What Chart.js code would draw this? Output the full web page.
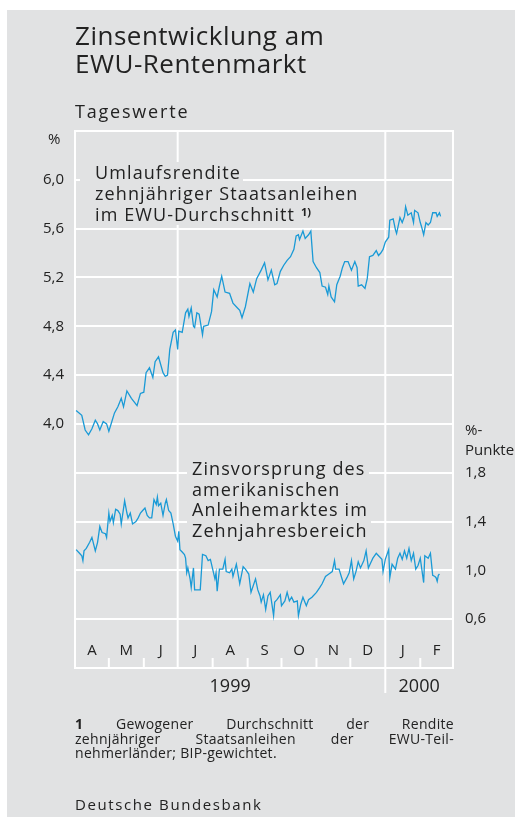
<!DOCTYPE html>
<html><head><meta charset="utf-8">
<script src="https://cdn.jsdelivr.net/npm/chart.js@4.4.0/dist/chart.umd.min.js"></script>
<style>
html,body{margin:0;padding:0;background:#fff;width:515px;height:817px;overflow:hidden;font-family:"Open Sans",sans-serif;color:#222;}
#bg{position:absolute;left:7px;top:10px;width:508px;height:807px;background:#e1e2e3;}
#c{position:absolute;left:0;top:0;}
.t{position:absolute;white-space:nowrap;}
.box span{display:block;width:fit-content;background:#e1e2e3;}
.just{text-align:justify;text-align-last:justify;white-space:normal;}
</style></head>
<body>
<div id="bg"></div>
<canvas id="c" width="515" height="817"></canvas>

<div class="t" style="left:75px;top:21px;font-size:26px;line-height:28px;letter-spacing:0.5px;">Zinsentwicklung am<br>EWU-Rentenmarkt</div>
<div class="t" style="left:75px;top:101px;font-size:18px;line-height:20px;letter-spacing:1.8px;">Tageswerte</div>
<div class="t" style="left:48px;top:128px;font-size:15px;line-height:20px;">%</div>
<div class="t" style="left:465px;top:419px;font-size:15px;line-height:20px;">%-<br>Punkte</div>

<div class="t box" style="left:80px;top:161.5px;font-size:18px;line-height:21px;letter-spacing:1.1px;">
<span style="padding:0 2px 0 15px">Umlaufsrendite</span>
<span style="padding:0 2px 0 15px">zehnjähriger Staatsanleihen</span>
<span style="padding:0 2px 0 15px">im EWU-Durchschnitt <sup style="font-size:11px;font-weight:bold;vertical-align:5px;line-height:0;letter-spacing:0">1)</sup></span>
</div>

<div class="t box" style="left:187px;top:458.3px;font-size:18px;line-height:20.5px;letter-spacing:1.1px;">
<span style="padding:0 3px 0 5px">Zinsvorsprung des</span>
<span style="padding:0 3px 0 5px">amerikanischen</span>
<span style="padding:0 3px 0 5px">Anleihemarktes im</span>
<span style="padding:0 3px 0 5px">Zehnjahresbereich</span>
</div>

<div class="t" style="left:75px;top:717px;width:379px;font-size:14px;line-height:14.5px;letter-spacing:0.3px;white-space:normal;">
<div class="just"><b>1</b> Gewogener Durchschnitt der Rendite</div>
<div class="just">zehnjähriger Staatsanleihen der EWU-Teil-</div>
<div>nehmerländer; BIP-gewichtet.</div>
</div>
<div class="t" style="left:75px;top:796.3px;font-size:15px;line-height:16px;letter-spacing:1.6px;">Deutsche Bundesbank</div>

<script>
// Days counted from 1 April 1999
const monthLabels = ['A','M','J','J','A','S','O','N','D','J','F'];
const monthLengths = [30,31,30,31,31,30,31,30,31,31,29];
const yearLabels = ['1999','2000'];
const yearStartDays = [0, 275, 335];

const leftTicksShown = [4.0,4.4,4.8,5.2,5.6,6.0];
const rightTicksShown = [0.6,1.0,1.4,1.8];

const yieldDays = [1,6,9,12,15,18,20,22,25,28,30,33,35,38,41,43,46,50,55,58,61,63,66,69,71,74,78,80,82,84,87,89,91,92,95,98,100,101,103,105,106,108,110,113,114,118,121,123,126,128,130,133,137,140,144,146,148,151,155,158,161,165,168,171,174,177,179,182,185,188,191,194,196,198,199,202,204,207,209,211,214,217,219,222,224,225,227,230,232,235,237,239,242,245,248,250,251,254,257,259,261,264,267,269,271,273,275,278,279,282,284,285,288,290,292,293,295,298,300,301,304,306,307,309,311,313,315,317,320,321,323,324];
const yieldValues = [4.11,4.07,3.95,3.91,3.96,4.03,4.00,3.95,4.02,4.00,3.94,4.03,4.09,4.14,4.21,4.14,4.27,4.21,4.15,4.25,4.26,4.42,4.46,4.38,4.51,4.55,4.42,4.39,4.40,4.61,4.75,4.77,4.61,4.76,4.75,4.91,4.94,4.88,4.95,4.80,4.79,4.91,4.90,4.73,4.80,4.81,4.92,5.10,5.04,5.13,5.21,5.08,5.07,4.99,4.95,4.93,4.87,4.96,5.15,5.08,5.19,5.26,5.32,5.18,5.26,5.14,5.15,5.25,5.30,5.34,5.37,5.43,5.54,5.55,5.51,5.58,5.52,5.55,5.58,5.33,5.28,5.24,5.13,5.12,5.06,5.13,5.04,5.00,5.14,5.21,5.28,5.33,5.33,5.26,5.33,5.28,5.13,5.14,5.11,5.19,5.37,5.38,5.42,5.38,5.40,5.43,5.49,5.53,5.67,5.68,5.59,5.56,5.69,5.65,5.70,5.78,5.71,5.73,5.65,5.75,5.73,5.65,5.62,5.55,5.65,5.63,5.65,5.73,5.73,5.70,5.73,5.70];

const spreadDays = [1,4,6,7,8,10,13,15,18,20,22,24,27,28,30,31,33,34,36,38,40,41,44,46,47,49,51,54,56,58,60,62,64,66,68,70,72,73,74,76,78,80,81,83,85,87,89,91,92,93,95,97,98,99,100,102,103,105,106,111,113,116,118,120,122,124,125,126,128,131,133,134,137,139,140,143,146,149,151,154,156,160,162,164,165,167,169,171,173,176,177,179,182,183,186,188,190,192,194,197,198,200,202,205,207,210,214,217,219,222,225,228,230,231,234,236,238,241,243,245,247,249,251,253,256,258,260,262,264,267,269,272,273,275,278,279,281,284,286,288,290,292,294,296,298,300,302,304,306,309,310,313,315,317,319,320,321,322,323];
const spreadValues = [1.17,1.14,1.12,1.08,1.16,1.18,1.23,1.27,1.16,1.23,1.36,1.31,1.30,1.27,1.47,1.40,1.45,1.39,1.50,1.49,1.46,1.38,1.57,1.47,1.43,1.47,1.38,1.40,1.43,1.47,1.49,1.51,1.45,1.43,1.43,1.58,1.54,1.60,1.53,1.55,1.45,1.55,1.58,1.49,1.47,1.38,1.28,1.24,1.32,1.17,1.15,1.13,1.10,0.98,1.02,0.93,0.86,1.02,0.84,0.84,1.13,1.12,1.08,1.09,1.01,0.93,0.98,0.83,1.01,1.01,1.09,0.99,0.98,1.01,0.95,1.05,0.89,1.03,1.01,0.97,0.82,0.93,0.84,0.79,0.74,0.80,0.68,0.79,0.82,0.63,0.74,0.76,0.80,0.71,0.75,0.82,0.75,0.78,0.74,0.75,0.63,0.72,0.78,0.71,0.76,0.78,0.82,0.86,0.89,0.95,0.97,0.99,1.08,1.01,1.01,0.95,0.89,0.94,0.98,1.08,0.93,0.99,1.07,1.02,1.08,1.16,1.02,1.06,1.10,1.14,1.12,1.09,0.99,1.09,1.17,0.94,1.05,1.01,1.10,1.14,1.09,1.16,1.10,1.18,1.08,1.14,1.01,1.04,1.10,0.90,1.12,1.10,1.14,0.96,0.95,0.94,0.91,0.96,0.97];

const LINE = '#1a9ad6', GRID = '#ffffff', TEXT = '#222222', FONT = '"Open Sans", sans-serif';

const toXY = (days, vals) => days.map((d, i) => ({x: d, y: vals[i]}));
const fmt = v => v.toFixed(1).replace('.', ',');
const near = (list, v) => list.some(t => Math.abs(t - v) < 1e-6);

const framePlugin = {
  id: 'frame',
  beforeDatasetsDraw(chart) {
    const {ctx, chartArea: {left, right, top, bottom}, scales: {x}} = chart;
    ctx.save();
    ctx.strokeStyle = GRID;
    ctx.lineWidth = 2;
    ctx.beginPath();
    ctx.moveTo(left, top - 1); ctx.lineTo(left, bottom + 1);
    ctx.moveTo(right, top - 1); ctx.lineTo(right, bottom + 1);
    ctx.stroke();
    let d = 0;
    const bounds = [];
    monthLengths.forEach(len => { bounds.push(d); d += len; });
    bounds.forEach((b, i) => {
      if (i === 0) return;
      const px = x.getPixelForValue(b);
      ctx.beginPath();
      if (b === yearStartDays[1]) { ctx.moveTo(px, top); ctx.lineTo(px, bottom + 25); }
      else if (b === 91) { ctx.moveTo(px, top); ctx.lineTo(px, bottom); }
      else { ctx.moveTo(px, bottom - 10); ctx.lineTo(px, bottom); }
      ctx.stroke();
    });
    ctx.fillStyle = TEXT;
    ctx.font = '15px ' + FONT;
    ctx.textAlign = 'center';
    ctx.textBaseline = 'middle';
    bounds.forEach((b, i) => {
      const mid = b + monthLengths[i] / 2;
      ctx.fillText(monthLabels[i], x.getPixelForValue(mid), bottom - 17);
    });
    ctx.font = '18px ' + FONT;
    yearLabels.forEach((lab, i) => {
      const mid = (yearStartDays[i] + yearStartDays[i + 1]) / 2;
      ctx.fillText(lab, x.getPixelForValue(mid), bottom + 19);
    });
    ctx.restore();
  }
};

new Chart(document.getElementById('c'), {
  type: 'line',
  data: {
    datasets: [
      {data: toXY(yieldDays, yieldValues), yAxisID: 'y', borderColor: LINE, borderWidth: 1.3, pointRadius: 0, tension: 0},
      {data: toXY(spreadDays, spreadValues), yAxisID: 'y2', borderColor: LINE, borderWidth: 1.3, pointRadius: 0, tension: 0}
    ]
  },
  options: {
    responsive: false,
    animation: false,
    layout: {padding: {top: 131, bottom: 149, left: 0, right: 0}},
    plugins: {legend: {display: false}, tooltip: {enabled: false}},
    scales: {
      x: {type: 'linear', min: 0, max: 335, display: false},
      y: {
        position: 'left', min: 2.0, max: 6.4,
        afterFit: s => { s.width = 75; },
        grid: {color: GRID, lineWidth: 2, drawTicks: false},
        border: {display: false},
        ticks: {stepSize: 0.4, autoSkip: false, padding: 11, color: TEXT, font: {family: FONT, size: 15},
                callback: v => near(leftTicksShown, v) ? fmt(v) : ''}
      },
      y2: {
        position: 'right', min: 0.2, max: 4.6,
        afterFit: s => { s.width = 62; },
        grid: {display: false, drawTicks: false},
        border: {display: false},
        ticks: {stepSize: 0.4, autoSkip: false, padding: 12, color: TEXT, font: {family: FONT, size: 15},
                callback: v => near(rightTicksShown, v) ? fmt(v) : ''}
      }
    }
  },
  plugins: [framePlugin]
});
</script>
</body></html>
